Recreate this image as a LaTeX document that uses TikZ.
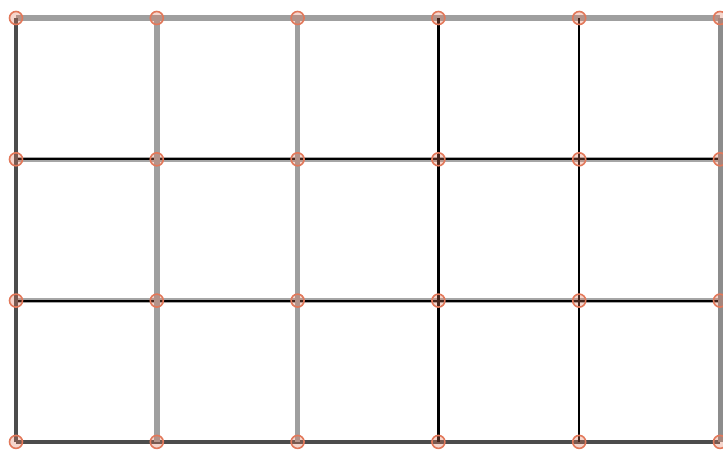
\documentclass[tikz,border=0pt]{standalone}
\usepackage{xcolor}
\usetikzlibrary{positioning}
\definecolor{knot}{RGB}{226,120,90}
\tikzset{
  vtx/.style = {circle, draw=knot, line width=1.6pt, fill=knot, fill opacity=0.3,
                minimum size=13pt, inner sep=0pt},
  fat/.style = {draw=gray!75, line width=5.5pt},
  dark/.style = {draw=black!70, line width=4pt},
  thin/.style = {draw=black, line width=2.2pt},
  halo/.style = {draw=gray!70, line width=5.5pt}
}
\begin{document}
\begin{tikzpicture}[x=1pt,y=1pt]
  \useasboundingbox (0,0) rectangle (723,-455);
  % grid points
  \foreach \i in {0,...,5}{
    \foreach \j in {0,...,3}{
      \coordinate (p-\i-\j) at ({16+140.8*\i},{-18-141.3*\j});
    }
  }
  % rows
  \draw[fat] (p-0-0) -- (p-5-0);
  \foreach \j in {1,2}{
    \draw[halo] (p-0-\j) -- (p-5-\j);
    \draw[thin] (p-0-\j) -- (p-5-\j);
  }
  \draw[dark] (p-0-3) -- (p-5-3);
  % columns
  \draw[dark] (p-0-0) -- (p-0-3);
  \draw[fat] (p-1-0) -- (p-1-3);
  \draw[fat] (p-2-0) -- (p-2-3);
  \draw[thin] (p-3-0) -- (p-3-3);
  \draw[thin] (p-4-0) -- (p-4-3);
  \draw[draw=gray!90, line width=5pt] (p-5-0) -- (p-5-3);
  % knots
  \foreach \i in {0,...,5}{
    \foreach \j in {0,...,3}{
      \node[vtx] (n-\i-\j) at (p-\i-\j) {};
    }
  }
\end{tikzpicture}
\end{document}
